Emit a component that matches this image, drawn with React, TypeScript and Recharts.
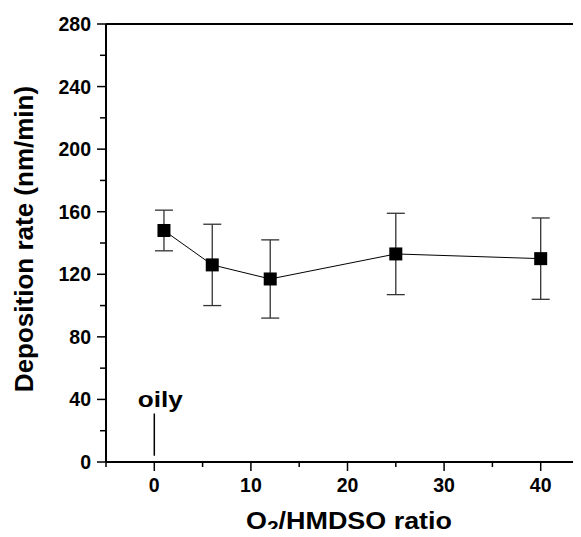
import { LineChart, Line, XAxis, YAxis, ErrorBar, ReferenceLine, Label } from 'recharts'

const ratios = [1, 6, 12, 25, 40]
const rates = [148, 126, 117, 133, 130]
const rateErrors = [13, 26, 25, 26, 26]
const xTicks = [-5, 0, 5, 10, 15, 20, 25, 30, 35, 40, 45]
const yTicks = [0, 20, 40, 60, 80, 100, 120, 140, 160, 180, 200, 220, 240, 260, 280]
const oilyMark = { x: 0, from: 4, to: 31, text: 'oily' }

const FONT = '"Liberation Sans", Arial, Helvetica, sans-serif'

const data = ratios.map((r, i) => ({ ratio: r, rate: rates[i], err: rateErrors[i] }))

function YTick({ x, y, payload }: any) {
  const major = payload.value % 40 === 0
  return (
    <g>
      <line x1={x} x2={x - (major ? 9 : 6)} y1={y} y2={y} stroke="#000" strokeWidth={1.5} />
      {major && (
        <text x={x - 15} y={y} dy={7} textAnchor="end" fontSize={19.5} fontWeight="bold" fontFamily={FONT} fill="#000">
          {payload.value}
        </text>
      )}
    </g>
  )
}

function XTick({ x, y, payload }: any) {
  const major = payload.value % 10 === 0
  return (
    <g>
      <line x1={x} x2={x} y1={y} y2={y + (major ? 9 : 5)} stroke="#000" strokeWidth={1.5} />
      {major && (
        <text x={x} y={y + 30} textAnchor="middle" fontSize={19.5} fontWeight="bold" fontFamily={FONT} fill="#000">
          {payload.value}
        </text>
      )}
    </g>
  )
}

function SquareDot({ cx, cy, index }: any) {
  return <rect key={index} x={cx - 6.5} y={cy - 6.5} width={13} height={13} fill="#000" />
}

export default function App() {
  return (
    <div style={{ width: 573, height: 529, marginBottom: -8, overflow: 'hidden' }}>
      <LineChart
        width={600}
        height={529}
        data={data}
        margin={{ top: 16, right: 19, bottom: 15, left: 0 }}
      >
        <XAxis
          dataKey="ratio"
          type="number"
          domain={[-5, 45]}
          ticks={xTicks}
          interval={0}
          height={60}
          tickSize={0}
          tickMargin={0}
          tickLine={false}
          tick={<XTick />}
          axisLine={{ stroke: '#000', strokeWidth: 2 }}
        >
          <Label
            content={() => (
              <text
                x={341}
                y={521}
                textAnchor="middle"
                fontSize={23}
                fontWeight="bold"
                fontFamily={FONT}
                fill="#000"
                textLength={206}
                lengthAdjust="spacingAndGlyphs"
              >
                O<tspan fontSize={18} dy={5}>2</tspan>
                <tspan dy={-5}>/HMDSO ratio</tspan>
              </text>
            )}
          />
        </XAxis>
        <YAxis
          type="number"
          domain={[0, 280]}
          ticks={yTicks}
          interval={0}
          width={98}
          tickSize={0}
          tickMargin={0}
          tickLine={false}
          tick={<YTick />}
          axisLine={{ stroke: '#000', strokeWidth: 2 }}
        >
          <Label
            content={() => (
              <text
                x={25}
                y={231}
                transform="rotate(-90 25 231)"
                textAnchor="middle"
                fontSize={26}
                fontWeight="bold"
                fontFamily={FONT}
                fill="#000"
              >
                Deposition rate (nm/min)
              </text>
            )}
          />
        </YAxis>
        <ReferenceLine y={280} stroke="#000" strokeWidth={2} ifOverflow="visible" />
        <ReferenceLine
          segment={[
            { x: oilyMark.x, y: oilyMark.from },
            { x: oilyMark.x, y: oilyMark.to },
          ]}
          stroke="#000"
          strokeWidth={1.5}
        >
          <Label
            content={({ viewBox }: any) => (
              <text
                x={viewBox.x + 6}
                y={viewBox.y - 7}
                textAnchor="middle"
                fontSize={22}
                fontWeight="bold"
                fontFamily={FONT}
                fill="#000"
                textLength={45}
                lengthAdjust="spacingAndGlyphs"
              >
                {oilyMark.text}
              </text>
            )}
          />
        </ReferenceLine>
        <Line
          dataKey="rate"
          stroke="#000"
          strokeWidth={1}
          dot={<SquareDot />}
          activeDot={false}
          isAnimationActive={false}
        >
          <ErrorBar dataKey="err" direction="y" width={9} stroke="#333" strokeWidth={1.3} isAnimationActive={false} />
        </Line>
      </LineChart>
    </div>
  )
}
